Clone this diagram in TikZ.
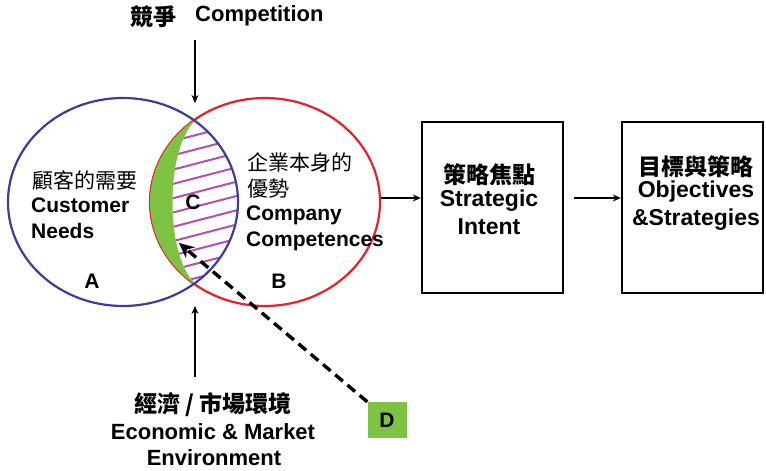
\documentclass[tikz,border=0pt]{standalone}
\usepackage{fontspec}
\setmainfont{Liberation Sans}
\newfontfamily\cjk{Noto Sans CJK TC}
\usetikzlibrary{shapes.geometric,arrows.meta}
\definecolor{vgreen}{HTML}{7DC242}
\definecolor{vhatch}{HTML}{B44FB4}
\definecolor{vblue}{HTML}{3D3D99}
\definecolor{vred}{HTML}{E8202A}
\tikzset{
  en/.style={font=\bfseries\fontsize{21}{24}\selectfont, inner sep=0pt},
  enm/.style={font=\bfseries\fontsize{22}{24}\selectfont, inner sep=0pt},
  enb/.style={font=\bfseries\fontsize{23}{26}\selectfont, inner sep=0pt},
  zh/.style={font=\cjk\fontsize{21}{24}\selectfont, inner sep=0pt},
  zhb/.style={font=\cjk\bfseries\fontsize{23}{26}\selectfont, inner sep=0pt},
  venn/.style={ellipse, minimum width=230pt, minimum height=208pt, inner sep=0pt, line width=2.2pt},
  stagebox/.style={draw, line width=2.4pt, minimum width=141pt, minimum height=171pt, inner sep=0pt},
  hatch/.style={vhatch, line width=2pt},
  flow/.style={line width=1.8pt, -{Stealth[length=8pt,width=7pt]}},
  dflow/.style={line width=3.4pt, dash pattern=on 10pt off 6pt, -{Stealth[length=15pt,width=14pt]}},
}
\begin{document}
\begin{tikzpicture}[x=1pt,y=-1pt]
\useasboundingbox (0,0) rectangle (766,471);
% red circle
\node[venn, draw=vred] (red) at (265,202) {};
% lens C
\begin{scope}
  \clip (123,202) ellipse [x radius=115pt, y radius=104pt];
  \clip (265,202) ellipse [x radius=115pt, y radius=104pt];
  \fill[vgreen] (100,80) rectangle (300,330);
  \clip (195,80) -- (195,121) .. controls (165,150) and (165,255) .. (195,283) -- (195,330) -- (300,330) -- (300,80) -- cycle;
  \fill[white] (100,80) rectangle (300,330);
  \foreach \k in {-5,...,10} {
    \draw[hatch] (150,{161.3+14.3*\k}) -- (250,{161.3+14.3*\k-26});
  }
\end{scope}
% blue circle
\node[venn, draw=vblue] (blue) at (123,202) {};

% left circle texts
\node[zh, anchor=west] (cnA) at (32,180) {顧客的需要};
\node[en, anchor=west] (enA1) at (31,205) {Customer};
\node[en, anchor=west] (enA2) at (31,231) {Needs};
\node[en] (labA) at (92,281) {A};
\node[en] (labC) at (193,202) {C};
% right circle texts
\node[zh, anchor=west] (cnB1) at (247,162) {企業本身的};
\node[zh, anchor=west] (cnB2) at (247,189) {優勢};
\node[en, anchor=west] (enB1) at (246,215) {Company};
\node[en, anchor=west] (enB2) at (246,241) {Competences};
\node[en] (labB) at (279,281) {B};

% top: competition
\node[zhb, anchor=west] (cnTop) at (130,17) {競爭};
\node[enm, anchor=west] (enTop) at (195,16) {Competition};
\coordinate (topS) at (195,40);
\coordinate (topE) at (195,103);
\draw[flow] (topS) -- (topE);

% bottom: economic environment
\node[zhb] (cnBot) at (213,405) {經濟 / 市場環境};
\node[enm] (enBot1) at (213,432) {Economic \& Market};
\node[enm] (enBot2) at (214,458) {Environment};
\coordinate (botS) at (195,377);
\coordinate (botE) at (195,306);
\draw[flow] (botS) -- (botE);

% D
\node[fill=vgreen, minimum width=39pt, minimum height=36pt, inner sep=0pt, font=\bfseries\fontsize{21}{24}\selectfont] (D) at (387,420) {D};
\coordinate (tipD) at (179,243);
\draw[dflow] (D.north west) -- (tipD);

% stage boxes
\node[stagebox] (box1) at (492.5,207.5) {};
\node[zhb] (cnS1) at (489,175) {策略焦點};
\node[enb] (enS1) at (489,201) {Strategic};
\node[enb] (enS2) at (489,227) {Intent};

\node[stagebox] (box2) at (692.5,207.5) {};
\node[zhb] (cnS2) at (696,167) {目標與策略};
\node[enb] (enS3) at (696,192) {Objectives};
\node[enb] (enS4) at (696,220) {\&Strategies};

\draw[flow] ([yshift=4pt]red.east) -- ([yshift=9.5pt]box1.west);
\draw[flow] ([xshift=10pt,yshift=9.5pt]box1.east) -- ([yshift=9.5pt]box2.west);
\end{tikzpicture}
\end{document}
